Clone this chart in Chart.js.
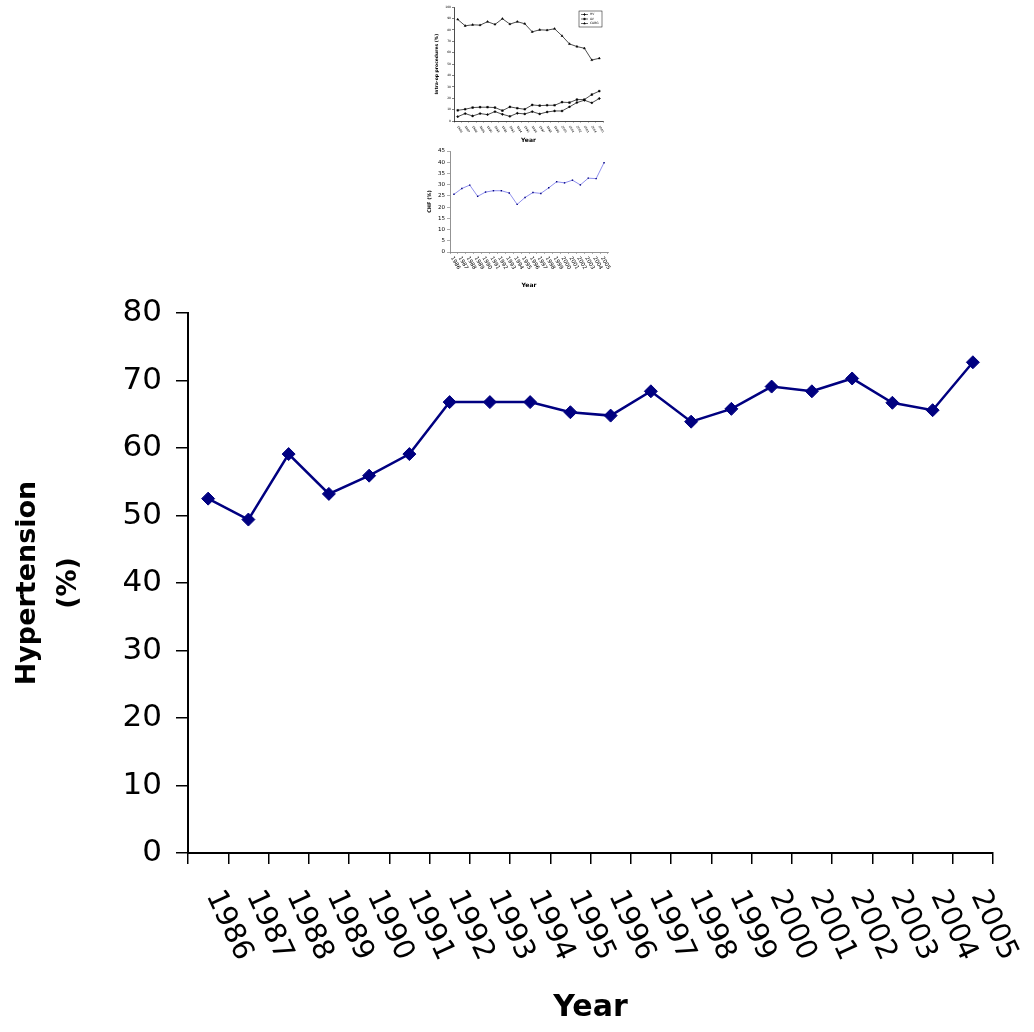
<!DOCTYPE html>
<html>
<head>
<meta charset="utf-8">
<script src="https://cdn.jsdelivr.net/npm/chart.js@4"></script>
<style>
  body{margin:0;background:#fff;}
  #wrap{position:relative;width:1034px;height:1032px;overflow:hidden;}
  canvas{position:absolute;}
</style>
</head>
<body>
<div id="wrap">
  <canvas id="mainChart" style="left:0;top:0" width="1034" height="1032"></canvas>
  <canvas id="opChart" style="left:420px;top:0" width="200" height="148"></canvas>
  <canvas id="chfChart" style="left:420px;top:145px" width="200" height="145"></canvas>
</div>
<script>
const years = ["1986","1987","1988","1989","1990","1991","1992","1993","1994","1995",
               "1996","1997","1998","1999","2000","2001","2002","2003","2004","2005"];
const hypertension = [52.5,49.4,59.1,53.2,55.9,59.1,66.8,66.8,66.8,65.3,
                      64.8,68.4,63.9,65.8,69.1,68.4,70.3,66.7,65.6,72.7];
// inset: intra-op procedures (%)
const hvPct   = [3.8,6.5,4.4,6.5,5.6,8.2,5.9,4.1,6.8,6.2,8.2,6.2,7.9,8.8,8.8,12.4,16.2,18.2,15.9,19.7];
const avPct   = [9.4,10.3,11.8,12.1,12.1,11.8,9.1,12.4,11.2,10.3,14.1,13.5,13.8,13.8,16.5,16.2,18.8,18.8,23.2,26.2];
const cabgPct = [89.1,83.5,84.4,84.1,87.1,84.7,89.7,85.0,87.1,85.3,78.2,80.0,79.7,80.9,74.7,67.6,65.3,63.8,53.5,55.0];
// inset: CHF (%)
const chfPct  = [25.7,28.3,29.8,24.8,26.7,27.3,27.3,26.3,21.2,24.3,26.5,26.1,28.6,31.3,30.8,32.0,29.9,32.9,32.7,39.8];

const FONT = "'DejaVu Sans', Verdana, sans-serif";

// year labels slanted downwards to the right, drawn from the x scale
const slantLabels = {
  id: 'slantLabels',
  afterDraw(chart, args, opts){
    const sc = chart.scales.x;
    const ctx = chart.ctx;
    ctx.save();
    ctx.font = opts.font;
    ctx.fillStyle = '#000';
    ctx.textAlign = 'left';
    ctx.textBaseline = 'middle';
    chart.data.labels.forEach((lab, i) => {
      ctx.save();
      ctx.translate(sc.getPixelForValue(i) + opts.dx, sc.top + opts.dy);
      ctx.rotate(opts.angle * Math.PI / 180);
      ctx.fillText(lab, 0, 0);
      ctx.restore();
    });
    ctx.restore();
  }
};

// small boxed legend inside the top-right of the plot
const boxLegend = {
  id: 'boxLegend',
  afterDraw(chart, args, opts){
    if(!opts.show) return;
    const ctx = chart.ctx, a = chart.chartArea;
    const w = 23, h = 16, x0 = a.right - w - 1, y0 = a.top + 4;
    ctx.save();
    ctx.strokeStyle = '#000'; ctx.lineWidth = 0.5;
    ctx.strokeRect(x0, y0, w, h);
    ctx.font = "3px " + FONT;
    ctx.textBaseline = 'middle';
    chart.data.datasets.forEach((ds, i) => {
      const y = y0 + 3.5 + i * 4.5;
      ctx.strokeStyle = '#000'; ctx.lineWidth = 0.6;
      ctx.beginPath(); ctx.moveTo(x0 + 2, y); ctx.lineTo(x0 + 9, y); ctx.stroke();
      Chart.helpers.drawPoint(ctx, {pointStyle: ds.pointStyle, radius: 1, borderWidth: 0.5}, x0 + 5.5, y);
      ctx.fillStyle = '#000';
      ctx.fillText(ds.label, x0 + 11, y);
    });
    ctx.restore();
  }
};

// main chart
new Chart(document.getElementById('mainChart'), {
  type: 'line',
  data: {
    labels: years,
    datasets: [{
      label: 'Hypertension (%)',
      data: hypertension,
      borderColor: '#000080',
      backgroundColor: '#000080',
      borderWidth: 2.5,
      pointStyle: 'rectRot',
      pointRadius: 6.5,
      pointBorderWidth: 1,
      pointHoverRadius: 6.5,
      tension: 0
    }]
  },
  options: {
    responsive: false,
    animation: false,
    events: [],
    layout: {padding: {left: 8, right: 41, top: 313, bottom: 6}},
    plugins: {
      legend: {display: false},
      tooltip: {enabled: false},
      slantLabels: {font: "29px " + FONT, dx: 5, dy: 39, angle: 65}
    },
    scales: {
      x: {
        offset: true,
        grid: {offset: true, drawOnChartArea: false, drawTicks: true, tickLength: 11, color: '#000', lineWidth: 1.5},
        border: {display: true, color: '#000', width: 2},
        ticks: {display: false},
        title: {display: true, text: 'Year', color: '#000', padding: 0,
                font: {family: FONT, size: 30, weight: 'bold'}},
        afterFit: s => { s.height = 1026 - 853; }
      },
      y: {
        min: 0, max: 80,
        ticks: {stepSize: 10, color: '#000', padding: 14, font: {family: FONT, size: 31}},
        grid: {drawOnChartArea: false, drawTicks: true, tickLength: 12, color: '#000', lineWidth: 1.5},
        border: {display: true, color: '#000', width: 2},
        title: {display: true, text: ['Hypertension', '(%)'], color: '#000', padding: 0,
                font: {family: FONT, size: 27, weight: 'bold', lineHeight: 1.5}},
        afterFit: s => { s.width = 188 - 8; }
      }
    }
  },
  plugins: [slantLabels]
});

// inset 1: intra-op procedures
new Chart(document.getElementById('opChart'), {
  type: 'line',
  data: {
    labels: years,
    datasets: [
      {label: 'HV', data: hvPct, pointStyle: 'rectRot'},
      {label: 'AV', data: avPct, pointStyle: 'rect'},
      {label: 'CABG', data: cabgPct, pointStyle: 'triangle'}
    ].map(d => Object.assign(d, {borderColor: '#000', backgroundColor: '#000', borderWidth: 0.7,
                                 pointRadius: 1.2, pointBorderWidth: 0.5, tension: 0}))
  },
  options: {
    responsive: false,
    animation: false,
    events: [],
    layout: {padding: {left: 12, right: 17, top: 7, bottom: 4}},
    plugins: {
      legend: {display: false},
      tooltip: {enabled: false},
      slantLabels: {font: "3px " + FONT, dx: 0, dy: 5, angle: 60},
      boxLegend: {show: true}
    },
    scales: {
      x: {
        offset: true,
        grid: {offset: true, drawOnChartArea: false, tickLength: 1.5, color: '#000', lineWidth: 0.5},
        border: {color: '#000', width: 0.7},
        ticks: {display: false},
        title: {display: true, text: 'Year', color: '#000', padding: 0,
                font: {family: FONT, size: 6, weight: 'bold'}},
        afterFit: s => { s.height = 144 - 121; }
      },
      y: {
        min: 0, max: 100,
        ticks: {stepSize: 10, color: '#000', padding: 1, font: {family: FONT, size: 3}},
        grid: {drawOnChartArea: false, tickLength: 2, color: '#000', lineWidth: 0.5},
        border: {color: '#000', width: 0.7},
        title: {display: true, text: 'Intra-op procedures (%)', color: '#000', padding: 2,
                font: {family: FONT, size: 4.5, weight: 'bold'}},
        afterFit: s => { s.width = 34 - 12; }
      }
    }
  },
  plugins: [slantLabels, boxLegend]
});

// inset 2: CHF
new Chart(document.getElementById('chfChart'), {
  type: 'line',
  data: {
    labels: years,
    datasets: [{
      label: 'CHF (%)',
      data: chfPct,
      borderColor: '#9090ee',
      backgroundColor: '#000080',
      borderWidth: 1,
      pointStyle: 'rect',
      pointRadius: 1,
      pointBorderWidth: 0,
      tension: 0
    }]
  },
  options: {
    responsive: false,
    animation: false,
    events: [],
    layout: {padding: {left: 5, right: 12, top: 6, bottom: 1}},
    plugins: {
      legend: {display: false},
      tooltip: {enabled: false},
      slantLabels: {font: "5.5px " + FONT, dx: -2, dy: 5, angle: 60}
    },
    scales: {
      x: {
        offset: true,
        grid: {offset: true, drawOnChartArea: false, tickLength: 2, color: '#777', lineWidth: 0.6},
        border: {color: '#777', width: 0.8},
        ticks: {display: false},
        title: {display: true, text: 'Year', color: '#000', padding: 0,
                font: {family: FONT, size: 6, weight: 'bold'}},
        afterFit: s => { s.height = 144 - 107; }
      },
      y: {
        min: 0, max: 45,
        ticks: {stepSize: 5, color: '#000', padding: 2, font: {family: FONT, size: 5.5}},
        grid: {drawOnChartArea: false, tickLength: 3, color: '#777', lineWidth: 0.6},
        border: {color: '#777', width: 0.8},
        title: {display: true, text: 'CHF (%)', color: '#000', padding: 2,
                font: {family: FONT, size: 5, weight: 'bold'}},
        afterFit: s => { s.width = 30 - 5; }
      }
    }
  },
  plugins: [slantLabels]
});
</script>
</body>
</html>
